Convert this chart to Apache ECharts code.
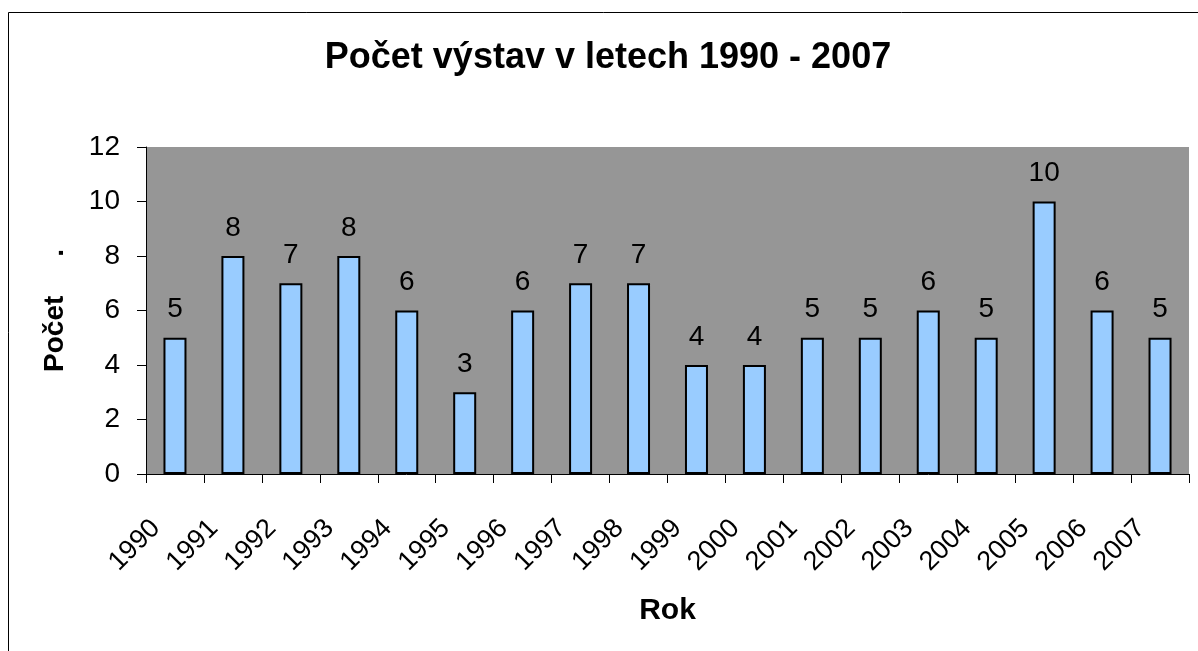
<!DOCTYPE html>
<html>
<head>
<meta charset="utf-8">
<title>Počet výstav</title>
<script src="https://cdn.jsdelivr.net/npm/echarts@6/dist/echarts.min.js"></script>
<style>
  html, body { margin: 0; padding: 0; background: #fff; }
  #chart { width: 1198px; height: 651px; }
</style>
</head>
<body>
<div id="chart"></div>
<script>
// data
const years = ['1990', '1991', '1992', '1993', '1994', '1995', '1996', '1997', '1998',
  '1999', '2000', '2001', '2002', '2003', '2004', '2005', '2006', '2007'];
const counts = [5, 8, 7, 8, 6, 3, 6, 7, 7, 4, 4, 5, 5, 6, 5, 10, 6, 5];
const yTicks = [0, 2, 4, 6, 8, 10, 12];

const chart = echarts.init(document.getElementById('chart'));
const font = 'Liberation Sans, Arial, sans-serif';

const option = {
  animation: false,
  backgroundColor: '#fff',
  textStyle: { fontFamily: font },
  // outer frame of the chart
  graphic: [{
    type: 'rect',
    shape: { x: 8.5, y: 12.5, width: 1300, height: 800 },
    style: { fill: 'none', stroke: '#000', lineWidth: 1 },
    silent: true
  }],
  title: {
    text: 'Počet výstav v letech 1990 - 2007',
    left: 603,
    textAlign: 'center',
    top: 35,
    textStyle: { fontFamily: font, fontSize: 36, fontWeight: 'bold', color: '#000' }
  },
  grid: {
    left: 146,
    right: 9,
    top: 147,
    bottom: 177,
    show: true,
    backgroundColor: '#969696',
    borderWidth: 0
  },
  xAxis: {
    type: 'category',
    data: years,
    name: 'Rok',
    nameLocation: 'middle',
    nameGap: 122,
    nameTextStyle: { fontFamily: font, fontSize: 30, fontWeight: 'bold', color: '#000' },
    axisLine: { lineStyle: { color: '#000', width: 1 } },
    axisTick: { show: true, length: 9, lineStyle: { color: '#000' } },
    axisLabel: {
      rotate: 45,
      margin: 31,
      // trailing space pushes the label end left of the bar, like the original
      formatter: v => v + '\u2003',
      fontFamily: font,
      fontSize: 27,
      color: '#000'
    }
  },
  yAxis: {
    type: 'value',
    min: yTicks[0],
    max: yTicks[yTicks.length - 1],
    interval: 2,
    name: 'Počet     .',
    nameLocation: 'middle',
    nameGap: 77,
    nameTextStyle: { fontFamily: font, fontSize: 28, fontWeight: 'bold', color: '#000' },
    axisLine: { show: true, lineStyle: { color: '#000', width: 1 } },
    axisTick: { show: true, length: 9, lineStyle: { color: '#000' } },
    splitLine: { show: false },
    axisLabel: { margin: 26, fontFamily: font, fontSize: 28, color: '#000' }
  },
  series: [{
    type: 'bar',
    data: counts,
    barWidth: 23,
    itemStyle: { color: '#99CCFF', borderColor: '#000', borderWidth: 2 },
    label: {
      show: true,
      position: 'top',
      distance: 14,
      fontFamily: font,
      fontSize: 28,
      color: '#000'
    }
  }]
};

chart.setOption(option);
</script>
</body>
</html>
